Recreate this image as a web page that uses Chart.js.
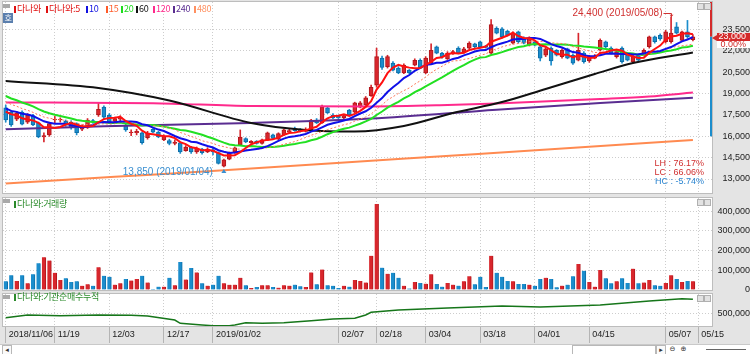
<!DOCTYPE html>
<html>
<head>
<meta charset="utf-8">
<script src="https://cdn.jsdelivr.net/npm/chart.js@4.4.1/dist/chart.umd.min.js"></script>
<style>
  html, body { margin: 0; padding: 0; background: #fff; }
  #wrap { position: relative; width: 750px; height: 354px; overflow: hidden; background: #e4e4e4; }
  #wrap canvas { position: absolute; left: 0; }
  .ttl { position: absolute; z-index: 5; white-space: nowrap; font: 9px 'Noto Sans CJK KR', sans-serif; line-height: 10px; letter-spacing: -0.3px; }
  .mk { position: absolute; width: 2px; height: 7px; }
  .ico { position: absolute; z-index: 5; width: 7px; height: 4px; background: #a9a9a9; }
  .btn { position: absolute; z-index: 5; width: 5px; height: 5px; background: #e2e2e2; border: 1px solid #b0b0b0; }
  #strip { position: absolute; left: 0; top: 344px; width: 750px; height: 10px; background: #fff; border-top: 1px solid #c9c9c9; }
  #strip span { position: absolute; top: 0; height: 8px; border: 1px solid #b8b8b8; background: #fafafa; font: 7px 'DejaVu Sans', sans-serif; line-height: 8px; text-align: center; color: #333; }
</style>
</head>
<body>
<div id="wrap">
  <canvas id="price" width="750" height="200" style="top:0"></canvas>
  <canvas id="volume" width="750" height="110" style="top:190px"></canvas>
  <canvas id="inst" width="750" height="58" style="top:286px"></canvas>

  <!-- price panel title -->
  <div class="ico" style="left:3px;top:4px"></div>
  <div class="ttl" style="left:3px;top:13px;width:10px;height:10px;background:#5b7fae;color:#fff;text-align:center;font-size:8px">호</div>
  <div class="ttl" style="left:14px;top:4px;height:11px;width:200px">
    <span class="mk" style="left:0;top:2px;background:#e01010"></span><span style="position:absolute;left:3px;color:#e01010">다나와</span>
    <span class="mk" style="left:32px;top:2px;background:#e01010"></span><span style="position:absolute;left:35px;color:#e01010">다나와:5</span>
    <span class="mk" style="left:72px;top:2px;background:#1010e0"></span><span style="position:absolute;left:75px;color:#1010e0">10</span>
    <span class="mk" style="left:92px;top:2px;background:#ff5a28"></span><span style="position:absolute;left:95px;color:#ff5a28">15</span>
    <span class="mk" style="left:107px;top:2px;background:#1edc1e"></span><span style="position:absolute;left:110px;color:#1edc1e">20</span>
    <span class="mk" style="left:122px;top:2px;background:#111"></span><span style="position:absolute;left:125px;color:#111">60</span>
    <span class="mk" style="left:139px;top:2px;background:#ff2a8c"></span><span style="position:absolute;left:142px;color:#ff2a8c">120</span>
    <span class="mk" style="left:159px;top:2px;background:#5a2d91"></span><span style="position:absolute;left:162px;color:#5a2d91">240</span>
    <span class="mk" style="left:180px;top:2px;background:#ff9060"></span><span style="position:absolute;left:183px;color:#ff9060">480</span>
  </div>
  <div class="btn" style="left:697px;top:3px"></div><div class="btn" style="left:704px;top:3px"></div>

  <!-- volume panel title -->
  <div class="ico" style="left:3px;top:199px"></div>
  <div class="ttl" style="left:14px;top:199px;height:11px;width:80px">
    <span class="mk" style="left:0;top:2px;background:#2a8a2a"></span><span style="position:absolute;left:3px;color:#2a8a2a">다나와:거래량</span>
  </div>
  <div class="btn" style="left:697px;top:199px"></div><div class="btn" style="left:704px;top:199px"></div>

  <!-- institution panel title -->
  <div class="ico" style="left:3px;top:295px"></div>
  <div class="ttl" style="left:14px;top:292px;height:11px;width:120px">
    <span class="mk" style="left:0;top:2px;background:#2a8a2a"></span><span style="position:absolute;left:3px;color:#2a8a2a">다나와:기관순매수누적</span>
  </div>
  <div class="btn" style="left:697px;top:295px"></div><div class="btn" style="left:704px;top:295px"></div>

  <div id="strip">
    <span style="left:2px;width:8px">◂</span>
    <span style="left:572px;width:82px;background:#fff"></span>
    <span style="left:656px;width:8px">▸</span>
    <span style="left:668px;width:9px;border:none;background:none">⊖</span>
    <span style="left:679px;width:9px;border:none;background:none">⊕</span>
    <span style="left:706px;width:40px;border:none;border-top:1px solid #666;top:4px;height:0"></span>
  </div>
</div>

<script>
// ---- data ----
const tradingDays = [
  ['2018/11', '06 07 08 09 12 13 14 15 16 19 20 21 22 23 26 27 28 29 30'],
  ['2018/12', '03 04 05 06 07 10 11 12 13 14 17 18 19 20 21 24 26 27 28'],
  ['2019/01', '02 03 04 07 08 09 10 11 14 15 16 17 18 21 22 23 24 25 28 29 30 31'],
  ['2019/02', '01 07 08 11 12 13 14 15 18 19 20 21 22 25 26 27 28'],
  ['2019/03', '04 05 06 07 08 11 12 13 14 15 18 19 20 21 22 25 26 27 28 29'],
  ['2019/04', '01 02 03 04 05 08 09 10 11 12 15 16 17 18 19 22 23 24 25 26 29 30'],
  ['2019/05', '02 03 07 08 09 10 13 14 15']
];
const dates = tradingDays.flatMap(([m, days]) => days.split(' ').map(d => m + '/' + d));

const opens = [
  18000,17700,17200,17700,17000,17450,16950,15950,16100,17150,
  17150,17050,17000,16900,16500,16650,17100,17500,18050,17500,
  17050,17200,16750,16250,16250,16250,15900,16500,16300,15750,
  15700,15500,15550,15000,15250,14900,15100,14900,15050,14850,
  13900,14400,14900,15400,15850,15550,15650,15500,15750,16100,
  15800,16100,16300,16550,16450,16350,16450,17150,16950,18000,
  17500,17400,17300,17850,17700,18050,18200,18850,19600,21500,
  20900,21150,20800,20450,20650,21000,21350,20450,21150,22300,
  21850,21450,21800,22200,21900,22200,22500,22650,22350,21850,
  23600,23550,23400,22550,23350,22900,22400,22650,22300,21700,
  22200,22050,21600,22150,21700,21350,21850,21300,21500,22050,
  22650,22200,21600,22200,21700,21250,21700,21700,22300,23000,
  23100,22650,22650,23700,22750,23350,22800
];
const highs = [
  18200,17800,17750,17800,17600,17550,17000,16250,17000,17400,
  17300,17150,17100,16950,16800,17250,17200,18350,18150,17600,
  17350,17450,16900,16450,16500,16300,16350,16550,16350,16100,
  15800,15750,15600,15350,15300,15250,15150,15200,15150,14900,
  14400,14900,15250,16450,15900,15700,15700,15800,16300,16150,
  16250,16500,16500,16650,16550,16600,17200,17250,18200,18100,
  17600,17500,17500,17900,18400,18450,18800,19600,22200,21650,
  21700,21250,20900,21100,20700,21450,21450,21600,22500,22350,
  21900,21950,22050,22300,22250,22650,22550,22700,22400,24200,
  23700,23650,23450,23350,23400,23000,23000,22700,22400,22250,
  22300,22100,22150,22200,21800,23250,21950,21700,21750,22850,
  22700,22300,22000,22300,21800,21750,21800,22150,23050,23050,
  23200,23450,24400,24000,23400,24150,23150
];
const lows = [
  17000,16700,17100,16800,16900,16750,15900,15600,16000,16950,
  17000,16700,16500,16100,16400,16550,16900,17400,17250,16950,
  16950,17100,16350,16050,16100,15450,15800,16250,15900,15700,
  15400,15400,14800,14950,14800,14800,14750,14850,14700,14050,
  13850,14350,14800,15350,15550,15500,15450,15450,15700,15800,
  15750,16050,16250,16350,16300,16300,16400,16900,16900,17600,
  17250,17250,17250,17450,17650,18000,18150,18800,19450,20700,
  20800,20600,20400,20400,20400,20950,20750,20400,21100,21800,
  21500,21400,21750,21800,21850,22150,22200,22200,22200,21800,
  23200,22900,23050,22500,22550,22500,22350,22350,21300,21600,
  21000,21650,21500,21450,21050,21300,21150,21200,21450,22000,
  22200,21800,21500,21150,21300,21150,21300,21650,22200,22550,
  22750,22550,22550,23200,22700,22900,22700
];
const closes = [
  17150,16800,17650,16850,17500,16800,15950,16050,16900,17200,
  17200,16800,16600,16250,16650,17150,17000,17900,17350,17000,
  17250,17350,16450,16300,16350,15550,16250,16300,15950,16000,
  15500,15600,14900,15250,14900,15150,14850,15100,14900,14100,
  14350,14800,15200,15950,15600,15650,15500,15750,16250,15850,
  16200,16450,16400,16400,16350,16500,17150,16950,18050,17650,
  17300,17300,17450,17500,18350,18350,18700,19450,21600,20850,
  21600,20650,20450,21000,20450,21350,20800,21500,22050,21850,
  21600,21850,21950,21850,22150,22550,22300,22300,22250,23850,
  23250,23000,23100,23250,22650,22550,22900,22400,21500,22150,
  21300,21700,22050,21500,21150,22050,21250,21600,21650,22750,
  22300,21850,21950,21250,21350,21650,21350,22050,23000,22650,
  22850,23350,23250,23250,23350,23000,23000
];
// closes before 2018/11/06, estimated so the short averages start where the picture shows them
const priorCloses = [
  20300,20100,20050,19950,19800,19700,19500,19400,19200,19000,
  18600,18350,18200,18000,17900,17700,18000,17900,17900
];
const volumes = [
  44000,75000,46000,75000,34000,80000,135000,166000,149000,87000,
  51000,60000,41000,44000,21000,29000,21000,115000,72000,67000,
  27000,34000,56000,48000,56000,72000,38000,5000,17000,17000,
  62000,24000,142000,53000,111000,89000,34000,22000,27000,72000,
  34000,26000,27000,62000,24000,10000,15000,24000,24000,15000,
  12000,24000,22000,27000,19000,15000,89000,29000,104000,24000,
  21000,10000,21000,17000,51000,46000,38000,173000,436000,113000,
  82000,87000,62000,21000,7000,41000,36000,32000,80000,31000,
  17000,36000,27000,22000,44000,70000,29000,67000,15000,173000,
  87000,67000,46000,44000,31000,31000,27000,21000,56000,62000,
  56000,14000,22000,27000,70000,132000,97000,41000,17000,101000,
  60000,34000,44000,60000,36000,108000,34000,38000,51000,24000,
  21000,36000,75000,56000,41000,46000,44000
];
// long averages at [day index, value]
const ma60Read  = [[0,19890],[17,19400],[30,18520],[45,16940],[55,16450],[64,16340],[73,16730],[82,17640],[91,18410],[99,19330],[108,20380],[115,21150],[126,21890]];
const ma120Read = [[0,18380],[27,18330],[45,18130],[67,18100],[81,18200],[90,18310],[109,18620],[118,18800],[126,19080]];
const ma240Read = [[0,16490],[18,16700],[45,16940],[67,17250],[90,17870],[109,18340],[126,18710]];
const ma480Read = [[0,12680],[20,13150],[40,13620],[60,14100],[80,14600],[100,15100],[126,15740]];
// 기관순매수누적, read at [day index, value]
const instCumRead = [[0,346000],[4,458000],[10,429000],[17,458000],[23,446000],[26,417000],[31,250000],[32,112000],[36,42000],[38,12000],[41,12000],[42,42000],[44,137000],[47,112000],[51,137000],[56,221000],[60,292000],[64,321000],[66,458000],[67,571000],[72,667000],[81,750000],[91,833000],[98,792000],[109,875000],[118,1042000],[124,1138000],[126,1113000]];

const priceTicks = [13000, 14500, 16000, 17500, 19000, 20500, 22000, 23500];
const volumeTicks = [0, 100000, 200000, 300000, 400000];
const instTicks = [500000];
const xTickDates = ['2018/11/06','2018/11/19','2018/12/03','2018/12/17','2019/01/02','2019/02/07','2019/02/18','2019/03/04','2019/03/18','2019/04/01','2019/04/15','2019/05/07','2019/05/15'];
const xTickText  = ['2018/11/06','11/19','12/03','12/17','2019/01/02','02/07','02/18','03/04','03/18','04/01','04/15','05/07','05/15'];
const rangeBarLow = 16000;

// ---- derived ----
const labels = dates.concat(['', '']);
const UP = '#d8262c', UP_EDGE = '#b0161c', DN = '#1b8dcc', DN_EDGE = '#0c6ea8';
const isUp = closes.map((c, i) => c >= opens[i]);
const fmt = v => Math.round(v).toLocaleString('en-US');
const FAMILY = "'Liberation Sans', Arial, sans-serif";
const axisFont = { family: FAMILY, size: 9 };
const fontStr = size => size + 'px ' + FAMILY;
const AXIS_RIGHT = 746;   // right edge of the value labels
const PLOT_RIGHT = 712;

const measureCtx = document.createElement('canvas').getContext('2d');
measureCtx.font = fontStr(axisFont.size);
const labelPad = ticks => Math.round(AXIS_RIGHT - PLOT_RIGHT - Math.max(...ticks.map(v => measureCtx.measureText(fmt(v)).width)));

function sma(n) {
  const all = priorCloses.concat(closes);
  return closes.map((_, i) => {
    const j = i + priorCloses.length;
    let s = 0;
    for (let k = j - n + 1; k <= j; k++) s += all[k];
    return s / n;
  });
}
function sparse(points) {
  const arr = new Array(labels.length).fill(null);
  points.forEach(([i, v]) => { arr[i] = v; });
  return arr;
}
const tickIndex = {};
xTickDates.forEach((d, k) => { tickIndex[dates.indexOf(d)] = xTickText[k]; });
const gridColor = ctx => (ctx.index in tickIndex) ? '#cdcdcd' : 'rgba(0,0,0,0)';
const noPad = s => { s.paddingTop = 0; s.paddingBottom = 0; s.paddingLeft = 0; s.paddingRight = 0; };

const panelBg = {
  id: 'panelBg',
  beforeDraw(chart) {
    const { ctx, chartArea: a } = chart;
    ctx.save();
    ctx.fillStyle = '#fff';
    ctx.fillRect(a.left, a.top, a.right - a.left, a.bottom - a.top);
    ctx.restore();
  },
  afterDraw(chart) {
    const { ctx, chartArea: a } = chart;
    ctx.save();
    ctx.strokeStyle = '#bdbdbd';
    ctx.lineWidth = 1;
    ctx.strokeRect(a.left - 0.5, a.top - 0.5, a.right - a.left + 1, a.bottom - a.top + 1);
    ctx.restore();
  }
};

const lineDs = (label, data, color, width, extra) => Object.assign({
  type: 'line', label, data, borderColor: color, borderWidth: width,
  pointRadius: 0, fill: false, tension: 0, spanGaps: true
}, extra || {});

function xScale(showTicks) {
  return {
    type: 'category', labels, offset: true,
    afterFit: s => { s.height = showTicks ? 18 : 0; noPad(s); },
    grid: {
      offset: false, color: gridColor, drawTicks: showTicks, tickLength: 17,
      tickColor: ctx => (ctx.index in tickIndex) ? '#b4b4b4' : 'rgba(0,0,0,0)'
    },
    border: { display: false, dash: [1, 2] },
    ticks: {
      display: showTicks, autoSkip: false, maxRotation: 0, minRotation: 0,
      align: 'start', labelOffset: 3, padding: -14, color: '#222', font: axisFont,
      callback: (v, i) => tickIndex[i] || ''
    }
  };
}
function yScale(min, max, ticks) {
  return {
    position: 'right', min, max,
    afterFit: s => { s.width = 38; noPad(s); },
    afterBuildTicks: s => { s.ticks = ticks.map(v => ({ value: v })); },
    grid: { color: '#cdcdcd', drawTicks: false },
    border: { display: false, dash: [1, 2] },
    ticks: { padding: labelPad(ticks), crossAlign: 'far', color: '#222', font: axisFont, callback: v => fmt(v) }
  };
}
const common = {
  responsive: false, maintainAspectRatio: false, animation: false, events: [],
  plugins: { legend: { display: false }, tooltip: { enabled: false } }
};

// ---- price panel ----
const maxHigh = Math.max(...highs), iHigh = highs.indexOf(maxHigh);
const minLow = Math.min(...lows), iLow = lows.indexOf(minLow);
const lastClose = closes[closes.length - 1], prevClose = closes[closes.length - 2];

const priceMarks = {
  id: 'priceMarks',
  afterDatasetsDraw(chart) {
    const { ctx, scales: { x, y }, chartArea: a } = chart;
    ctx.save();
    const yLast = y.getPixelForValue(lastClose);
    ctx.fillStyle = '#d42a2a';
    ctx.fillRect(a.right - 2, a.top, 2, yLast - a.top);
    ctx.fillStyle = '#1b8dcc';
    ctx.fillRect(a.right - 2, yLast, 2, y.getPixelForValue(rangeBarLow) - yLast);

    // highest
    const hx = Math.round(x.getPixelForValue(iHigh)) + 0.5, hy = y.getPixelForValue(maxHigh);
    const hl = Math.round(hy - 4) + 0.5;
    ctx.strokeStyle = '#d03030'; ctx.lineWidth = 1;
    ctx.beginPath();
    ctx.moveTo(hx - 8, hl); ctx.lineTo(hx, hl); ctx.lineTo(hx, hy);
    ctx.stroke();
    ctx.fillStyle = '#d03030';
    ctx.beginPath(); ctx.moveTo(hx - 2, hy - 2); ctx.lineTo(hx + 2, hy - 2); ctx.lineTo(hx, hy); ctx.fill();
    ctx.font = fontStr(10);
    ctx.textAlign = 'right'; ctx.textBaseline = 'middle';
    ctx.fillText(fmt(maxHigh) + ' (' + dates[iHigh] + ')', hx - 9, hl);

    // lowest
    const lx = x.getPixelForValue(iLow), ly = y.getPixelForValue(minLow);
    ctx.fillStyle = '#3a8fd0';
    ctx.beginPath(); ctx.moveTo(lx, ly + 2); ctx.lineTo(lx + 2.5, ly + 6); ctx.lineTo(lx - 2.5, ly + 6); ctx.fill();
    ctx.fillText(fmt(minLow) + ' (' + dates[iLow] + ')', lx - 11, ly + 5);

    // LH / LC / HC
    const pct = v => v.toFixed(2) + '%';
    ctx.font = fontStr(9);
    ctx.fillStyle = '#d03030';
    ctx.fillText('LH : ' + pct((maxHigh - minLow) / minLow * 100), a.right - 8, a.bottom - 29);
    ctx.fillText('LC : ' + pct((lastClose - minLow) / minLow * 100), a.right - 8, a.bottom - 20);
    ctx.fillStyle = '#2a84d0';
    ctx.fillText('HC : ' + pct((lastClose - maxHigh) / maxHigh * 100), a.right - 8, a.bottom - 11);
    ctx.restore();
  },
  afterDraw(chart) {
    const { ctx, scales: { y }, chartArea: a } = chart;
    const yl = Math.round(y.getPixelForValue(lastClose));
    ctx.save();
    ctx.fillStyle = '#d42a2a';
    ctx.beginPath(); ctx.moveTo(a.right, yl + 1); ctx.lineTo(a.right + 5, yl - 2); ctx.lineTo(a.right + 5, yl + 4); ctx.fill();
    ctx.fillRect(a.right + 5, yl - 4, 33, 8);
    ctx.fillStyle = '#fff';
    ctx.fillRect(a.right + 5, yl + 4, 33, 7);
    ctx.font = fontStr(axisFont.size);
    ctx.textAlign = 'right'; ctx.textBaseline = 'middle';
    ctx.fillText(fmt(lastClose), AXIS_RIGHT, yl);
    ctx.fillStyle = '#d42a2a';
    ctx.fillText(((lastClose - prevClose) / prevClose * 100).toFixed(2) + '%', AXIS_RIGHT, yl + 8);
    ctx.restore();
  }
};

new Chart(document.getElementById('price'), {
  type: 'bar',
  data: {
    labels,
    datasets: [
      lineDs('다나와:5', sma(5), '#ff1010', 2),
      lineDs('10', sma(10), '#1010e8', 2),
      lineDs('15', sma(15), '#ff7a5a', 1, { borderDash: [2, 2] }),
      lineDs('20', sma(20), '#22e022', 2),
      lineDs('60', sparse(ma60Read), '#111111', 2, { cubicInterpolationMode: 'monotone' }),
      lineDs('120', sparse(ma120Read), '#ff2a8c', 2, { cubicInterpolationMode: 'monotone' }),
      lineDs('240', sparse(ma240Read), '#5a2d91', 2, { cubicInterpolationMode: 'monotone' }),
      lineDs('480', sparse(ma480Read), '#ff8a50', 2, { cubicInterpolationMode: 'monotone' }),
      {
        label: '다나와', data: opens.map((o, i) => [o, closes[i]]),
        backgroundColor: isUp.map(u => u ? UP : DN), borderColor: isUp.map(u => u ? UP_EDGE : DN_EDGE),
        borderWidth: 1, borderSkipped: false, barThickness: 4, grouped: false
      },
      {
        label: 'wick', data: lows.map((l, i) => [l, highs[i]]),
        backgroundColor: isUp.map(u => u ? UP : DN), borderWidth: 0, barThickness: 1, grouped: false
      }
    ]
  },
  options: Object.assign({}, common, {
    layout: { padding: { top: 2, bottom: 7, left: 3, right: 0 } },
    scales: { x: xScale(false), y: yScale(12016, 25443, priceTicks) }
  }),
  plugins: [panelBg, priceMarks]
});

// ---- volume panel ----
new Chart(document.getElementById('volume'), {
  type: 'bar',
  data: {
    labels,
    datasets: [{
      label: '다나와:거래량', data: volumes,
      backgroundColor: isUp.map(u => u ? UP : DN), borderColor: isUp.map(u => u ? UP_EDGE : DN_EDGE),
      borderWidth: { left: 0, right: 1, top: 0, bottom: 0 }, barThickness: 4
    }]
  },
  options: Object.assign({}, common, {
    layout: { padding: { top: 8, bottom: 10, left: 3, right: 0 } },
    scales: { x: xScale(false), y: yScale(0, 466000, volumeTicks) }
  }),
  plugins: [panelBg]
});

// ---- institution cumulative panel ----
new Chart(document.getElementById('inst'), {
  type: 'line',
  data: {
    labels,
    datasets: [lineDs('다나와:기관순매수누적', sparse(instCumRead), '#16761a', 1.5)]
  },
  options: Object.assign({}, common, {
    layout: { padding: { top: 8, bottom: 0, left: 3, right: 0 } },
    scales: { x: xScale(true), y: yScale(0, 1333000, instTicks) }
  }),
  plugins: [panelBg]
});
</script>
</body>
</html>
